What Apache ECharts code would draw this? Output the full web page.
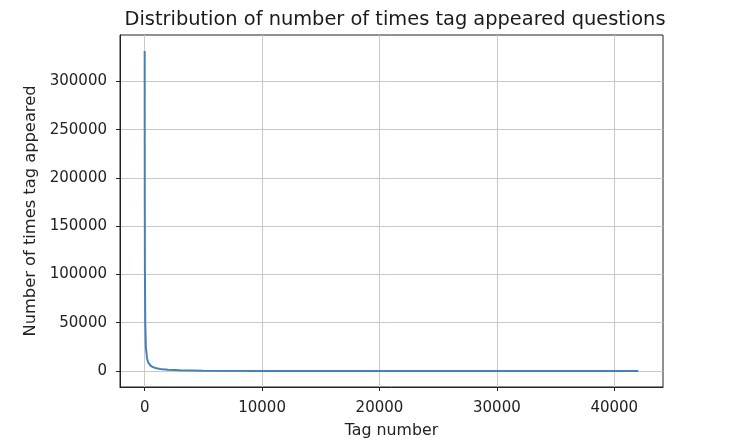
<!DOCTYPE html>
<html><head><meta charset="utf-8">
<script src="https://cdn.jsdelivr.net/npm/echarts@6/dist/echarts.min.js"></script>
<style>html,body{margin:0;padding:0;background:#fff}#c{width:742px;height:444px}</style>
</head><body><div id="c"></div>
<script>
const title = 'Distribution of number of times tag appeared questions';
const xName = 'Tag number';
const yName = 'Number of times tag appeared';
const xTicks = [0, 10000, 20000, 30000, 40000];
const yTicks = [0, 50000, 100000, 150000, 200000, 250000, 300000];
const tagIndex = [0, 5, 10, 20, 50, 100, 200, 300, 500, 700, 1000, 1500, 2000, 3000, 5000, 10000, 15000, 20000, 30000, 40000, 42048];
const tagCount = [331505, 230000, 170000, 105000, 50000, 25000, 13000, 9000, 5500, 4000, 2800, 1700, 1200, 700, 350, 120, 60, 35, 15, 5, 1];

const chart = echarts.init(document.getElementById('c'));
const font = 'DejaVu Sans';
chart.setOption({
  animation: false,
  title: {text: title, left: 390, top: 5, textAlign: 'center',
    textStyle: {fontFamily: font, fontSize: 19.4, fontWeight: 'normal', color: '#1a1a1a'}},
  grid: {left: 120, right: 79, top: 35, bottom: 57, show: true, borderColor: '#222', borderWidth: 1},
  xAxis: {type: 'value', min: -2102, max: 44150, name: xName, nameLocation: 'middle', nameGap: 36,
    nameTextStyle: {fontFamily: font, fontSize: 15.8, color: '#222'},
    axisLine: {show: true, onZero: false, lineStyle: {color: '#222'}},
    axisTick: {show: true, length: 4, customValues: xTicks, lineStyle: {color: '#222'}},
    axisLabel: {customValues: xTicks, formatter: v => String(v), fontFamily: font, fontSize: 15, color: '#222', margin: 14},
    splitLine: {show: true, lineStyle: {color: '#c8c8c8', width: 1}}},
  yAxis: {type: 'value', min: -16575, max: 348080, name: yName, nameLocation: 'middle', nameGap: 80,
    nameTextStyle: {fontFamily: font, fontSize: 16.3, color: '#222'},
    axisLine: {show: true, onZero: false, lineStyle: {color: '#222'}},
    axisTick: {show: true, length: 4, customValues: yTicks, lineStyle: {color: '#222'}},
    axisLabel: {customValues: yTicks, formatter: v => String(v), fontFamily: font, fontSize: 15, color: '#222', margin: 13},
    splitLine: {show: true, lineStyle: {color: '#c8c8c8', width: 1}}},
  series: [{type: 'line', data: tagIndex.map((x, i) => [x, tagCount[i]]), smooth: false, showSymbol: false,
    lineStyle: {color: '#4680b8', width: 2}}]
});
</script></body></html>
